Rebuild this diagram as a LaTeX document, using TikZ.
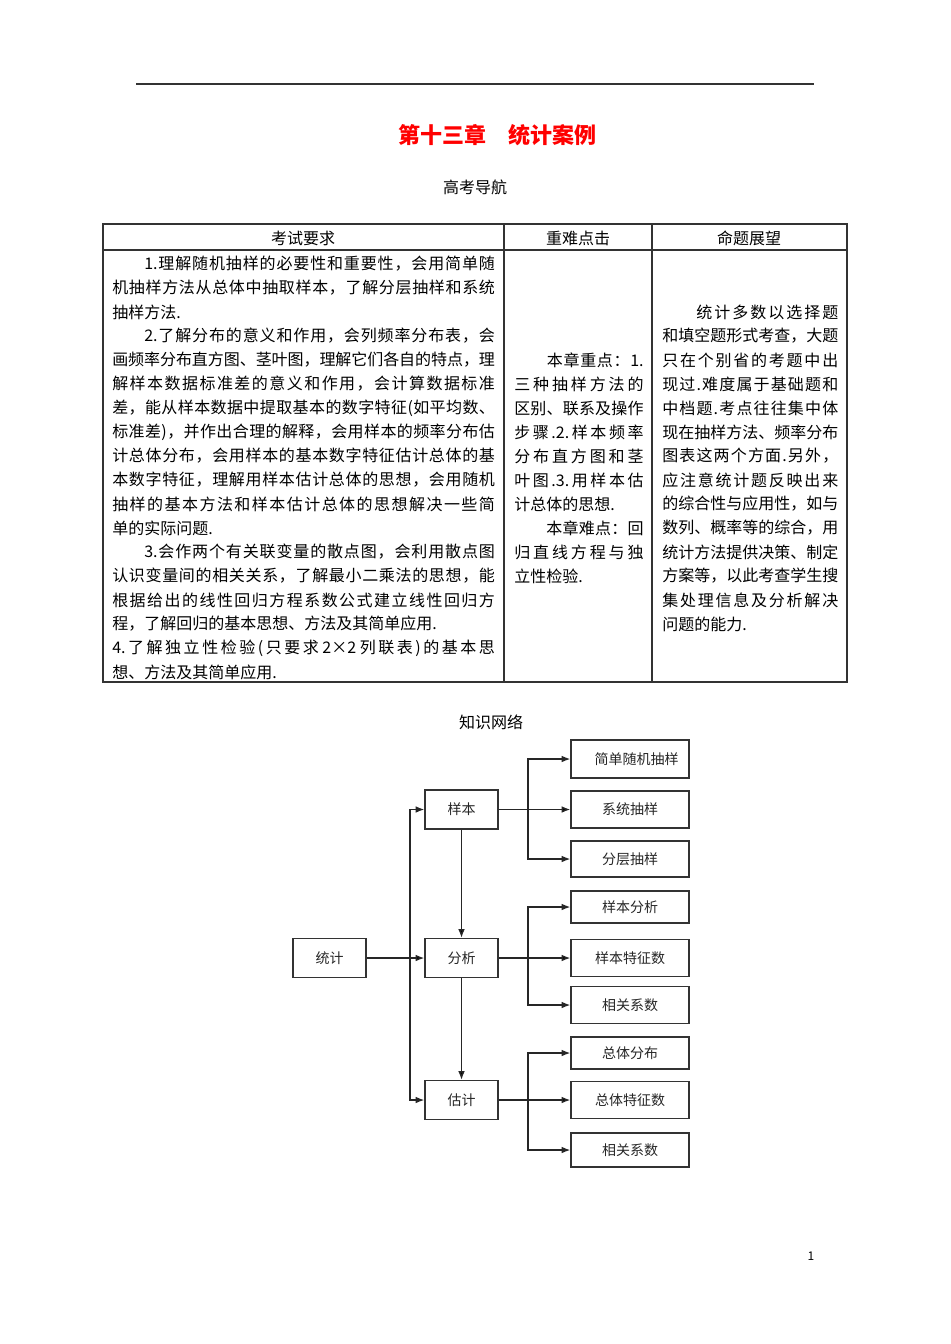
\documentclass[tikz,border=0pt]{standalone}
\usepackage{fontspec}
\setmainfont{Noto Sans CJK SC}
\usetikzlibrary{arrows.meta, positioning}

% glue between CJK characters, so that a line can be set to a fixed width
\XeTeXinterchartokenstate=1
\newcount\cjkc
\cjkc="4E00
\loop \XeTeXcharclass\cjkc=1 \advance\cjkc by 1 \ifnum\cjkc<"A000 \repeat
\XeTeXcharclass"3001=3 \XeTeXcharclass"3002=3 \XeTeXcharclass"FF0C=3 \XeTeXcharclass"FF1A=3
\newcommand\cjkgap{\hskip 0pt plus 1fil minus .6pt}
\XeTeXinterchartoks 1 1 = {\cjkgap}
\XeTeXinterchartoks 1 3 = {\cjkgap}
\XeTeXinterchartoks 3 1 = {\cjkgap}
\XeTeXinterchartoks 3 3 = {\cjkgap}
\XeTeXinterchartoks 0 1 = {\cjkgap}
\XeTeXinterchartoks 1 0 = {\cjkgap}
\XeTeXinterchartoks 0 3 = {\cjkgap}
\XeTeXinterchartoks 3 0 = {\cjkgap}
\newcommand\jl[2]{\hbox to #1{#2}}

\begin{document}
\begin{tikzpicture}[x=0.75pt, y=-0.75pt,
  cell/.style={anchor=west, inner sep=0pt, font=\fontsize{12}{14}\selectfont},
  head/.style={inner sep=0pt, font=\fontsize{12}{14}\selectfont},
  stage/.style={draw=black!80, line width=1pt, minimum width=54.75pt, minimum height=29.25pt, inner sep=0pt, font=\fontsize{10.5}{12}\selectfont, text=black!85},
  leaf/.style={stage, minimum width=88.5pt, minimum height=27.75pt},
  link/.style={draw=black!85, line width=1pt, -{Latex[length=6.5pt,width=5pt]}}]
  \useasboundingbox (0,0) rectangle (950,1344);

  % top rule and headings
  \draw[line width=1.1pt, black!80] (136,84) -- (814,84);
  \node[inner sep=0pt, text=red, font=\fontsize{16.5}{18}\selectfont\bfseries] (title) at (497,135) {第十三章　统计案例};
  \node[head] (gkdh) at (475,187) {高考导航};

  % table
  \draw[line width=1.1pt, black!80] (103,224) rectangle (847,682);
  \draw[line width=1.1pt, black!80] (103,250) -- (847,250) (504,224) -- (504,682) (652,224) -- (652,682);
  \node[head] (h1) at (303,238) {考试要求};
  \node[head] (h2) at (578,238) {重难点击};
  \node[head] (h3) at (749,238) {命题展望};

  \node[cell] (a1)  at (112,264) {\jl{287pt}{　　1.理解随机抽样的必要性和重要性，会用简单随}};
  \node[cell] (a2)  at (112,288) {\jl{287pt}{机抽样方法从总体中抽取样本，了解分层抽样和系统}};
  \node[cell] (a3)  at (112,312) {抽样方法.};
  \node[cell] (a4)  at (112,336) {\jl{287pt}{　　2.了解分布的意义和作用，会列频率分布表，会}};
  \node[cell] (a5)  at (112,360) {\jl{287pt}{画频率分布直方图、茎叶图，理解它们各自的特点，理}};
  \node[cell] (a6)  at (112,384) {\jl{287pt}{解样本数据标准差的意义和作用，会计算数据标准}};
  \node[cell] (a7)  at (112,408) {\jl{287pt}{差，能从样本数据中提取基本的数字特征(如平均数、}};
  \node[cell] (a8)  at (112,432) {\jl{287pt}{标准差)，并作出合理的解释，会用样本的频率分布估}};
  \node[cell] (a9)  at (112,456) {\jl{287pt}{计总体分布，会用样本的基本数字特征估计总体的基}};
  \node[cell] (a10) at (112,480) {\jl{287pt}{本数字特征，理解用样本估计总体的思想，会用随机}};
  \node[cell] (a11) at (112,504) {\jl{287pt}{抽样的基本方法和样本估计总体的思想解决一些简}};
  \node[cell] (a12) at (112,528) {单的实际问题.};
  \node[cell] (a13) at (112,552) {\jl{287pt}{　　3.会作两个有关联变量的散点图，会利用散点图}};
  \node[cell] (a14) at (112,576) {\jl{287pt}{认识变量间的相关关系，了解最小二乘法的思想，能}};
  \node[cell] (a15) at (112,600) {\jl{287pt}{根据给出的线性回归方程系数公式建立线性回归方}};
  \node[cell] (a16) at (112,624) {程，了解回归的基本思想、方法及其简单应用.};
  \node[cell] (a17) at (112,648) {\jl{287pt}{4.了解独立性检验(只要求 2×2 列联表)的基本思}};
  \node[cell] (a18) at (112,672) {想、方法及其简单应用.};

  \node[cell] (b1)  at (514,360) {\jl{97pt}{　　本章重点：1.}};
  \node[cell] (b2)  at (514,384) {\jl{97pt}{三种抽样方法的}};
  \node[cell] (b3)  at (514,408) {\jl{97pt}{区别、联系及操作}};
  \node[cell] (b4)  at (514,432) {\jl{97pt}{步骤.2.样本频率}};
  \node[cell] (b5)  at (514,456) {\jl{97pt}{分布直方图和茎}};
  \node[cell] (b6)  at (514,480) {\jl{97pt}{叶图.3.用样本估}};
  \node[cell] (b7)  at (514,504) {计总体的思想.};
  \node[cell] (b8)  at (514,528) {\jl{97pt}{　　本章难点：回}};
  \node[cell] (b9)  at (514,552) {\jl{97pt}{归直线方程与独}};
  \node[cell] (b10) at (514,576) {立性检验.};

  \node[cell] (c1)  at (662,312) {\jl{132pt}{　　统计多数以选择题}};
  \node[cell] (c2)  at (662,336) {\jl{132pt}{和填空题形式考查，大题}};
  \node[cell] (c3)  at (662,360) {\jl{132pt}{只在个别省的考题中出}};
  \node[cell] (c4)  at (662,384) {\jl{132pt}{现过.难度属于基础题和}};
  \node[cell] (c5)  at (662,408) {\jl{132pt}{中档题.考点往往集中体}};
  \node[cell] (c6)  at (662,432) {\jl{132pt}{现在抽样方法、频率分布}};
  \node[cell] (c7)  at (662,456) {\jl{132pt}{图表这两个方面.另外，}};
  \node[cell] (c8)  at (662,480) {\jl{132pt}{应注意统计题反映出来}};
  \node[cell] (c9)  at (662,504) {\jl{132pt}{的综合性与应用性，如与}};
  \node[cell] (c10) at (662,528) {\jl{132pt}{数列、概率等的综合，用}};
  \node[cell] (c11) at (662,552) {\jl{132pt}{统计方法提供决策、制定}};
  \node[cell] (c12) at (662,576) {\jl{132pt}{方案等，以此考查学生搜}};
  \node[cell] (c13) at (662,600) {\jl{132pt}{集处理信息及分析解决}};
  \node[cell] (c14) at (662,624) {问题的能力.};

  % knowledge network
  \node[head] (zswl) at (491,722) {知识网络};
  \node[stage] (tj) at (329.5,958)  {统计};
  \node[stage] (yb) at (461.5,809.5) {样本};
  \node[stage] (fx) at (461.5,958)  {分析};
  \node[stage] (gj) at (461.5,1100) {估计};

  \node[leaf, minimum height=28.5pt] (jd)   at (630,759)   {\hspace{10pt}简单随机抽样};
  \node[leaf]                        (xt)   at (630,809.5) {系统抽样};
  \node[leaf, minimum height=27pt]   (fc)   at (630,859)   {分层抽样};
  \node[leaf, minimum height=24pt]   (ybfx) at (630,907)   {样本分析};
  \node[leaf]                        (ybtz) at (630,958)   {样本特征数};
  \node[leaf]                        (xg1)  at (630,1005)  {相关系数};
  \node[leaf, minimum height=24pt]   (ztfb) at (630,1053)  {总体分布};
  \node[leaf]                        (zttz) at (630,1100)  {总体特征数};
  \node[leaf, minimum height=25.5pt] (xg2)  at (630,1150)  {相关系数};

  \coordinate (lt) at (410,958);
  \coordinate (ra) at (528,809.5);
  \coordinate (rb) at (528,958);
  \coordinate (rc) at (528,1100);

  \path[link]
    (tj) edge (fx)
    (yb) edge (fx)
    (fx) edge (gj)
    (yb) edge (xt)
    (fx) edge (ybtz)
    (gj) edge (zttz);
  \draw[link] (lt) |- (yb);
  \draw[link] (lt) |- (gj);
  \draw[link] (ra) |- (jd);
  \draw[link] (ra) |- (fc);
  \draw[link] (rb) |- (ybfx);
  \draw[link] (rb) |- (xg1);
  \draw[link] (rc) |- (ztfb);
  \draw[link] (rc) |- (xg2);

  \node[inner sep=0pt, font=\fontsize{9}{10}\selectfont] (pg) at (811,1256) {1};
\end{tikzpicture}
\end{document}
